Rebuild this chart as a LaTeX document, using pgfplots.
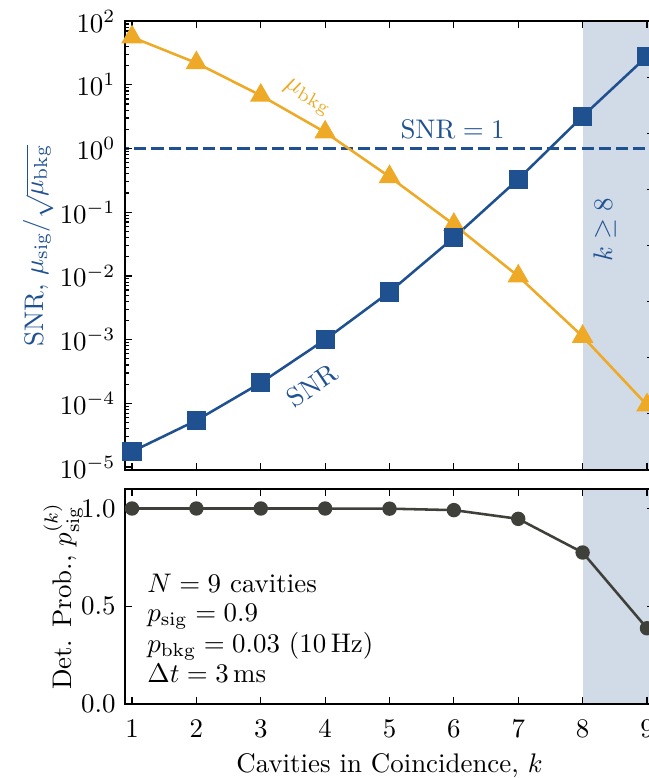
\documentclass[border=0pt]{standalone}
\usepackage{pgfplots}
\pgfplotsset{compat=1.18}
\definecolor{cblue}{RGB}{31,81,145}
\definecolor{corange}{RGB}{238,170,38}
\definecolor{cshade}{RGB}{209,219,231}
\definecolor{cgray}{RGB}{64,64,58}
\begin{document}
\begin{tikzpicture}
\pgfplotsset{
  every axis/.append style={
    scale only axis, width=196.8pt, xmin=0.891, xmax=9.109,
    tick align=inside, major tick length=2.6pt, minor tick length=1.5pt,
    axis line style={line width=0.6pt}, every tick/.style={black, line width=0.45pt},
    xtick={1,2,3,4,5,6,7,8,9}, axis on top,
  }
}
% bottom axis
\begin{axis}[at={(0,0)}, anchor=south west, height=80.0pt,
  ymin=0, ymax=1.1, ytick={0,0.5,1},
  yticklabel style={/pgf/number format/.cd, fixed, fixed zerofill, precision=1},
  xticklabel style={yshift=-2.5pt},
  xlabel={Cavities in Coincidence, $k$},
  ylabel={Det. Prob., $p_{\mathrm{sig}}^{(k)}$},
  xlabel style={yshift=1pt},
  ylabel style={yshift=-7.5pt},
]
\addplot[fill=cshade, draw=none] coordinates {(8,-1) (10,-1) (10,2) (8,2)} -- cycle;
\addplot[cgray, line width=0.95pt, mark=*, mark size=2.2pt] coordinates {
 (1,1.0) (2,1.0) (3,1.0) (4,0.99992) (5,0.99911) (6,0.99167) (7,0.94703) (8,0.77484) (9,0.38742)};
\node[anchor=base west, inner sep=0] at (axis cs:1.23,0.569) {$N=9$ cavities};
\node[anchor=base west, inner sep=0] at (axis cs:1.23,0.421) {$p_{\mathrm{sig}}=0.9$};
\node[anchor=base west, inner sep=0] at (axis cs:1.23,0.262) {$p_{\mathrm{bkg}}=0.03$ $(10\,\mathrm{Hz})$};
\node[anchor=base west, inner sep=0] at (axis cs:1.23,0.108) {$\Delta t=3\,\mathrm{ms}$};
\end{axis}
% top axis
\begin{axis}[at={(0,87.05pt)}, anchor=south west, height=167.0pt,
  ymode=log, ymin=9e-6, ymax=100,
  ytick={1e-5,1e-4,1e-3,1e-2,1e-1,1,10,100},
  ytick pos=left, xticklabels={},
  ylabel={SNR, $\mu_{\mathrm{sig}}/\sqrt{\mu_{\mathrm{bkg}}}$},
  ylabel style={text=cblue, yshift=-4.5pt},
]
\addplot[fill=cshade, draw=none] coordinates {(8,1e-7) (10,1e-7) (10,1e3) (8,1e3)} -- cycle;
\addplot[cblue, line width=0.95pt, dash pattern=on 4.5pt off 1.9pt] coordinates {(0.5,1) (10,1)};
\addplot[corange, line width=0.95pt, mark=triangle*, mark size=3.7pt] coordinates {
 (1,56) (2,22) (3,6.8) (4,1.8) (5,0.36) (6,0.064) (7,0.0099) (8,1.12e-3) (9,9.4e-5)};
\addplot[cblue, line width=0.95pt, mark=square*, mark size=3.1pt] coordinates {
 (1,1.75e-5) (2,5.4e-5) (3,2.1e-4) (4,1.0e-3) (5,5.6e-3) (6,0.040) (7,0.33) (8,3.2) (9,28)};
\node[text=corange, rotate=-30] at (axis cs:3.72,6.3) {$\mu_{\mathrm{bkg}}$};
\node[text=cblue] at (axis cs:5.98,2.0) {$\mathrm{SNR}=1$};
\node[text=cblue, rotate=34] at (axis cs:3.80,1.9e-4) {SNR};
\node[text=cblue, rotate=90] at (axis cs:8.34,0.053) {$k\geq 8$};
\end{axis}
% right-side twin ticks
\begin{axis}[at={(0,87.05pt)}, anchor=south west, height=167.0pt,
  ymin=0, ymax=8, ytick={1,2,3,4,5,6,7}, yticklabels={},
  axis x line=none, axis y line*=right]
\addplot[draw=none] coordinates {(1,1)};
\end{axis}
\pgfresetboundingbox
\path[use as bounding box] (-46.5pt,-27.53pt) rectangle (194.93pt,261.89pt);
\end{tikzpicture}
\end{document}
